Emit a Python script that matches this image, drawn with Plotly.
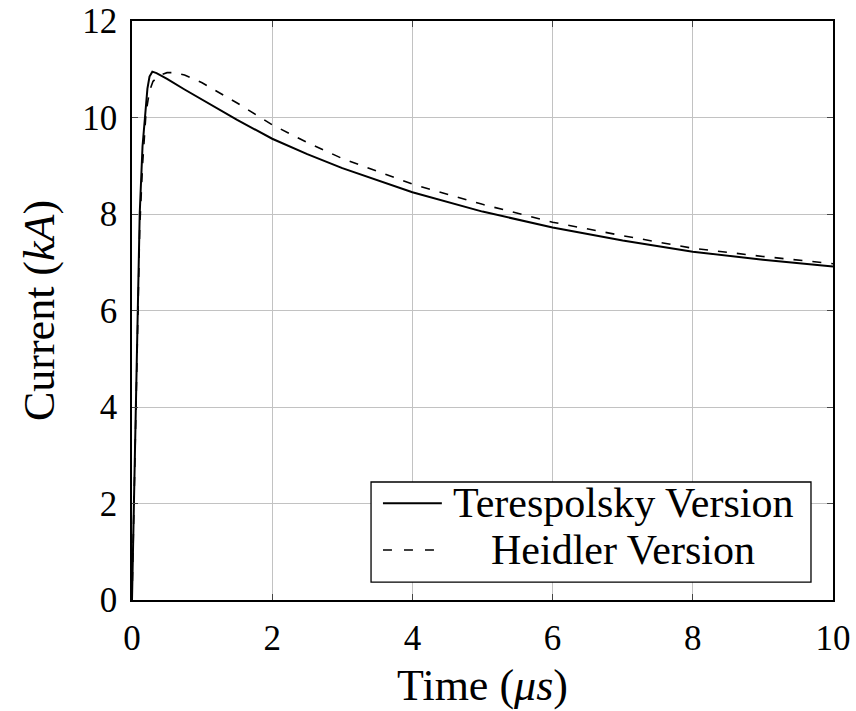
import plotly.graph_objects as go

# Time (µs) and current (kA)
t_teres = [0, 0.025, 0.05, 0.08, 0.11, 0.15, 0.19, 0.22, 0.25, 0.29, 0.35, 0.5, 0.75,
           1, 1.5, 2, 2.5, 3, 4, 5, 6, 7, 8, 9, 10]
i_teres = [0, 2.0, 3.8, 6.0, 8.0, 9.4, 10.2, 10.6, 10.85, 10.95, 10.92, 10.8, 10.58,
           10.37, 9.95, 9.56, 9.24, 8.95, 8.45, 8.05, 7.72, 7.45, 7.22, 7.05, 6.91]

t_heid = [0, 0.025, 0.05, 0.08, 0.11, 0.15, 0.2, 0.25, 0.3, 0.4, 0.5, 0.6, 0.75,
          1, 1.5, 2, 2.5, 3, 4, 5, 6, 7, 8, 9, 10]
i_heid = [0, 1.9, 3.7, 5.8, 7.7, 9.0, 10.1, 10.55, 10.75, 10.88, 10.93, 10.93, 10.88,
          10.72, 10.3, 9.85, 9.48, 9.15, 8.62, 8.2, 7.83, 7.55, 7.29, 7.12, 6.97]

names = ["Terespolsky Version", "Heidler Version"]
x_ticks = [0, 2, 4, 6, 8, 10]
y_ticks = [0, 2, 4, 6, 8, 10, 12]

FONT = "Liberation Serif, Times New Roman, Times, serif"
DASH = "9px,10px"
LEG_DASH = "9px,12px"

fig = go.Figure()
fig.add_trace(go.Scatter(x=t_teres, y=i_teres, mode="lines", name=names[0],
                         line=dict(color="black", width=2), showlegend=False))
fig.add_trace(go.Scatter(x=t_heid, y=i_heid, mode="lines", name=names[1],
                         line=dict(color="black", width=1.6, dash=DASH), showlegend=False))

axis_common = dict(
    showline=True, linecolor="black", linewidth=1.5, mirror="allticks",
    ticks="inside", ticklen=6, tickcolor="#444", tickwidth=1,
    showgrid=True, gridcolor="#c2c2c2", gridwidth=1, automargin=False,
    zeroline=False, tickfont=dict(family=FONT, size=35, color="black"),
)

fig.update_xaxes(range=[0, 10], tickvals=x_ticks, ticktext=[str(v) for v in x_ticks],
                 title=dict(text="Time (<i>μs</i>)", font=dict(family=FONT, size=44, color="black"),
                            standoff=12),
                 ticklabelstandoff=6, **axis_common)
fig.update_yaxes(range=[0, 12], tickvals=y_ticks, ticktext=[str(v) for v in y_ticks],
                 title=dict(text="Current (<i>kA</i>)", font=dict(family=FONT, size=44, color="black"),
                            standoff=14),
                 ticklabelstandoff=6, **axis_common)

# Legend box drawn in paper coordinates (pgfplots style: line sample + centred text)
box = dict(x0=0.341, x1=0.9686, y0=0.031, y1=0.2038)
rows_y = [0.167, 0.0864]
line_x = [0.358, 0.442]
text_x = 0.700
shapes = [dict(type="rect", xref="paper", yref="paper", layer="above",
               line=dict(color="black", width=1.3), fillcolor="white", **box)]
dashes = ["solid", LEG_DASH]
widths = [2, 1.6]
for k, name in enumerate(names):
    shapes.append(dict(type="line", xref="paper", yref="paper", layer="above",
                       x0=line_x[0], x1=line_x[1], y0=rows_y[k], y1=rows_y[k],
                       line=dict(color="black", width=widths[k], dash=dashes[k])))
annotations = [dict(text=name, xref="paper", yref="paper", x=text_x, y=rows_y[k],
                    xanchor="center", yanchor="middle", showarrow=False,
                    font=dict(family=FONT, size=42, color="black"))
               for k, name in enumerate(names)]

fig.update_layout(
    width=856, height=711,
    margin=dict(l=132, r=23, t=21, b=111),
    paper_bgcolor="white", plot_bgcolor="white",
    font=dict(family=FONT, color="black"),
    shapes=shapes, annotations=annotations,
    showlegend=False,
)

fig.write_html("out.html")
